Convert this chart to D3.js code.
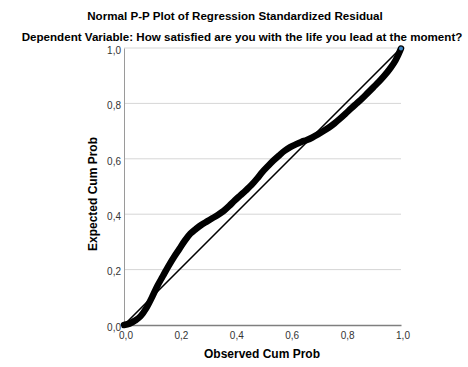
<!DOCTYPE html>
<html>
<head>
<meta charset="utf-8">
<script src="https://cdn.jsdelivr.net/npm/d3@7"></script>
<style>
  html, body { margin: 0; padding: 0; background: #fff; }
  svg { display: block; font-family: "Liberation Sans", Arial, sans-serif; }
</style>
</head>
<body>
<svg id="chart" width="468" height="367"></svg>
<script>
// Normal P-P plot: observed vs. expected cumulative probability
const titleMain = "Normal P-P Plot of Regression Standardized Residual";
const titleSub = "Dependent Variable: How satisfied are you with the life you lead at the moment?";
const xAxisTitle = "Observed Cum Prob";
const yAxisTitle = "Expected Cum Prob";

const tickValues = [0, 0.2, 0.4, 0.6, 0.8, 1.0];
const tickLabels = ["0,0", "0,2", "0,4", "0,6", "0,8", "1,0"];

// residual points (observed cumulative probability)
const observed = [
  0.000, 0.020, 0.040, 0.060, 0.080, 0.100, 0.120, 0.140, 0.160, 0.180,
  0.200, 0.220, 0.240, 0.260, 0.280, 0.300, 0.320, 0.340, 0.360, 0.380,
  0.400, 0.420, 0.440, 0.460, 0.480, 0.500, 0.520, 0.540, 0.560, 0.580,
  0.600, 0.620, 0.640, 0.660, 0.680, 0.700, 0.720, 0.740, 0.760, 0.780,
  0.800, 0.820, 0.840, 0.860, 0.880, 0.900, 0.920, 0.940, 0.960, 0.980,
  0.990, 1.000
];
// expected cumulative probability under normality
const expected = [
  0.000, 0.005, 0.016, 0.032, 0.060, 0.098, 0.140, 0.176, 0.212, 0.245,
  0.275, 0.305, 0.330, 0.347, 0.362, 0.374, 0.386, 0.398, 0.412, 0.430,
  0.450, 0.468, 0.486, 0.505, 0.528, 0.553, 0.574, 0.594, 0.612, 0.629,
  0.642, 0.652, 0.661, 0.668, 0.677, 0.688, 0.700, 0.713, 0.728, 0.745,
  0.763, 0.782, 0.800, 0.818, 0.838, 0.858, 0.878, 0.900, 0.925, 0.955,
  0.975, 0.998
];

const points = observed.map((o, i) => ({ o, e: expected[i] }));

const svg = d3.select("#chart");
svg.append("rect").attr("width", 468).attr("height", 367).attr("fill", "#fff");

const x = d3.scaleLinear().domain([0, 1]).range([124, 401]);
const y = d3.scaleLinear().domain([0, 1]).range([325, 48]);

// horizontal gridlines
svg.append("g")
  .selectAll("line")
  .data(tickValues.filter(v => v > 0))
  .join("line")
  .attr("x1", x(0)).attr("x2", x(1))
  .attr("y1", d => y(d)).attr("y2", d => y(d))
  .attr("stroke", "#d6d6d6")
  .attr("stroke-width", 1);

// x axis
const xAxis = svg.append("g")
  .attr("transform", `translate(0,${y(0)})`)
  .call(d3.axisBottom(x).tickValues(tickValues).tickSize(0).tickPadding(7)
    .tickFormat((d, i) => tickLabels[i]));
xAxis.select(".domain").attr("stroke", "#7f7f7f").attr("stroke-width", 1.5);
xAxis.selectAll("text")
  .attr("font-size", 10).attr("fill", "#333")
  .attr("font-family", "Liberation Sans, Arial, sans-serif")
  .attr("dx", 1.5);

// y axis
const yAxis = svg.append("g")
  .attr("transform", `translate(${x(0)},0)`)
  .call(d3.axisLeft(y).tickValues(tickValues).tickSize(0).tickPadding(3)
    .tickFormat((d, i) => tickLabels[i]));
yAxis.select(".domain").attr("stroke", "#9a9a9a").attr("stroke-width", 1);
yAxis.selectAll("text")
  .attr("font-size", 10).attr("fill", "#333")
  .attr("font-family", "Liberation Sans, Arial, sans-serif")
  .attr("dy", "0.52em");

// reference diagonal
svg.append("line")
  .attr("x1", x(0)).attr("y1", y(0))
  .attr("x2", x(1)).attr("y2", y(1))
  .attr("stroke", "#000")
  .attr("stroke-width", 1.6);

// observed vs expected curve
const line = d3.line()
  .x(d => x(d.o))
  .y(d => y(d.e))
  .curve(d3.curveMonotoneX);

svg.append("path")
  .datum(points)
  .attr("d", line)
  .attr("fill", "none")
  .attr("stroke", "#000")
  .attr("stroke-width", 6.5)
  .attr("stroke-linecap", "round")
  .attr("stroke-linejoin", "round");

// last marker
const last = points[points.length - 1];
svg.append("circle")
  .attr("cx", x(last.o)).attr("cy", y(last.e))
  .attr("r", 2)
  .attr("fill", "#3d86c6");

// titles
svg.append("text")
  .attr("x", 235).attr("y", 19.5)
  .attr("text-anchor", "middle")
  .attr("font-size", 11.6).attr("font-weight", "bold")
  .text(titleMain);

svg.append("text")
  .attr("x", 242).attr("y", 41)
  .attr("text-anchor", "middle")
  .attr("font-size", 11.6).attr("font-weight", "bold")
  .text(titleSub);

svg.append("text")
  .attr("x", 262).attr("y", 358)
  .attr("text-anchor", "middle")
  .attr("font-size", 12).attr("font-weight", "bold")
  .text(xAxisTitle);

svg.append("text")
  .attr("transform", "translate(97,194) rotate(-90)")
  .attr("text-anchor", "middle")
  .attr("font-size", 12).attr("font-weight", "bold")
  .text(yAxisTitle);
</script>
</body>
</html>
